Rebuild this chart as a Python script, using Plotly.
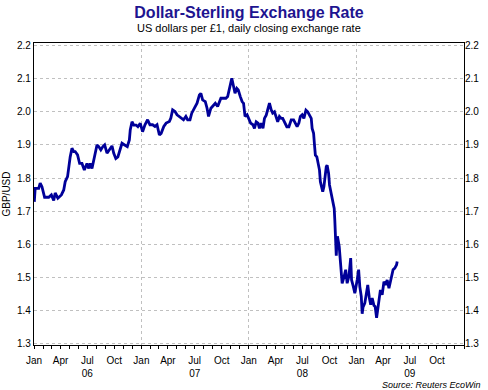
import plotly.graph_objects as go

# ---- data ----
dates = [
    "2006-01-02", "2006-01-04", "2006-01-05", "2006-01-17", "2006-01-22", "2006-01-28",
    "2006-02-06", "2006-02-20", "2006-03-01", "2006-03-09", "2006-03-14", "2006-03-23",
    "2006-04-04", "2006-04-12", "2006-04-17", "2006-04-25", "2006-04-29", "2006-05-04",
    "2006-05-10", "2006-05-16", "2006-05-21", "2006-05-29", "2006-06-05", "2006-06-13",
    "2006-06-21", "2006-06-30", "2006-07-06", "2006-07-11", "2006-07-17", "2006-07-23",
    "2006-07-28", "2006-08-03", "2006-08-09", "2006-08-16", "2006-08-23", "2006-08-29",
    "2006-09-06", "2006-09-14", "2006-09-23", "2006-09-29", "2006-10-06", "2006-10-13",
    "2006-10-18", "2006-10-27", "2006-11-05", "2006-11-14", "2006-11-21", "2006-11-24",
    "2006-11-30", "2006-12-06", "2006-12-14", "2006-12-20", "2006-12-28",
    "2007-01-05", "2007-01-13", "2007-01-22", "2007-01-30", "2007-02-08", "2007-02-16",
    "2007-02-23", "2007-03-03", "2007-03-09", "2007-03-18", "2007-03-26", "2007-04-06",
    "2007-04-11", "2007-04-17", "2007-04-25", "2007-05-02", "2007-05-10", "2007-05-15",
    "2007-05-24", "2007-06-01", "2007-06-07", "2007-06-15", "2007-06-21", "2007-06-30",
    "2007-07-09", "2007-07-17", "2007-07-22", "2007-07-28", "2007-08-06", "2007-08-12",
    "2007-08-17", "2007-08-25", "2007-09-02", "2007-09-09", "2007-09-17", "2007-09-23",
    "2007-09-28", "2007-10-07", "2007-10-15", "2007-10-21", "2007-10-27", "2007-11-04",
    "2007-11-09", "2007-11-15", "2007-11-21", "2007-11-26", "2007-12-03", "2007-12-09",
    "2007-12-14", "2007-12-19", "2007-12-26",
    "2008-01-02", "2008-01-07", "2008-01-15", "2008-01-20", "2008-01-26", "2008-02-01",
    "2008-02-06", "2008-02-12", "2008-02-18", "2008-02-23", "2008-02-29", "2008-03-06",
    "2008-03-11", "2008-03-17", "2008-03-22", "2008-03-28", "2008-04-03", "2008-04-08",
    "2008-04-14", "2008-04-20", "2008-04-25", "2008-05-01", "2008-05-09", "2008-05-16",
    "2008-05-24", "2008-06-01", "2008-06-08", "2008-06-13", "2008-06-19", "2008-06-24",
    "2008-06-30", "2008-07-06", "2008-07-13", "2008-07-19", "2008-07-25", "2008-07-31",
    "2008-08-03", "2008-08-08", "2008-08-11", "2008-08-14", "2008-08-19", "2008-08-22",
    "2008-08-28", "2008-08-31", "2008-09-05", "2008-09-08", "2008-09-12", "2008-09-15",
    "2008-09-20", "2008-09-23", "2008-09-28", "2008-10-01", "2008-10-04", "2008-10-09",
    "2008-10-12", "2008-10-17", "2008-10-19", "2008-10-21", "2008-10-23", "2008-10-24",
    "2008-10-26", "2008-10-28", "2008-11-03", "2008-11-06", "2008-11-10", "2008-11-13",
    "2008-11-19", "2008-11-25", "2008-11-30", "2008-12-06", "2008-12-12", "2008-12-15",
    "2008-12-21", "2008-12-26",
    "2009-01-03", "2009-01-08", "2009-01-12", "2009-01-17", "2009-01-20", "2009-01-23",
    "2009-01-29", "2009-02-04", "2009-02-08", "2009-02-13", "2009-02-18", "2009-02-23",
    "2009-03-01", "2009-03-05", "2009-03-10", "2009-03-15", "2009-03-19", "2009-03-23",
    "2009-03-29", "2009-04-04", "2009-04-09", "2009-04-15", "2009-04-21", "2009-04-26",
    "2009-04-30", "2009-05-05", "2009-05-11", "2009-05-17", "2009-05-19",
]
gbp_usd = [
    1.728, 1.764, 1.769, 1.769, 1.785, 1.774,
    1.742, 1.742, 1.749, 1.732, 1.755, 1.739,
    1.749, 1.764, 1.789, 1.804, 1.834, 1.864,
    1.890, 1.880, 1.880, 1.870, 1.844, 1.844,
    1.824, 1.844, 1.829, 1.844, 1.829, 1.854,
    1.875, 1.900, 1.895, 1.885, 1.895, 1.900,
    1.875, 1.885, 1.897, 1.875, 1.859, 1.864,
    1.880, 1.905, 1.900, 1.895, 1.915, 1.945,
    1.970, 1.960, 1.960, 1.955, 1.965,
    1.940, 1.961, 1.976, 1.961, 1.961, 1.956,
    1.961, 1.930, 1.935, 1.956, 1.966, 1.971,
    1.981, 2.006, 2.001, 1.991, 1.986, 1.981,
    1.976, 1.986, 1.976, 1.976, 1.996, 2.011,
    2.026, 2.051, 2.056, 2.036, 2.031, 2.011,
    1.986, 2.011, 2.021, 2.026, 2.016, 2.031,
    2.041, 2.041, 2.041, 2.046, 2.066, 2.101,
    2.081, 2.056, 2.071, 2.066, 2.046, 2.031,
    2.026, 1.986, 1.991,
    1.976, 1.966, 1.961, 1.950, 1.970, 1.966,
    1.950, 1.966, 1.950, 1.980, 1.990, 2.010,
    2.026, 2.006, 1.996, 2.000, 1.980, 1.970,
    1.986, 1.980, 1.980, 1.970, 1.955, 1.955,
    1.976, 1.976, 1.966, 1.955, 1.966, 1.986,
    1.991, 1.980, 2.005, 2.000, 1.990, 1.980,
    1.950, 1.935, 1.900, 1.869, 1.864, 1.849,
    1.824, 1.789, 1.764, 1.759, 1.774, 1.800,
    1.834, 1.839, 1.814, 1.779, 1.764, 1.744,
    1.724, 1.708, 1.674, 1.644, 1.603, 1.565,
    1.603, 1.624, 1.593, 1.553, 1.503, 1.482,
    1.500, 1.523, 1.482, 1.503, 1.558, 1.492,
    1.472, 1.452,
    1.492, 1.523, 1.472, 1.442, 1.390, 1.410,
    1.422, 1.452, 1.477, 1.440, 1.417, 1.437,
    1.415, 1.412, 1.378, 1.410, 1.447, 1.462,
    1.447, 1.487, 1.477, 1.492, 1.467, 1.487,
    1.497, 1.523, 1.528, 1.538, 1.548,
]

x_tick_dates = [f"{y}-{m:02d}-01" for y in (2006, 2007, 2008, 2009) for m in (1, 4, 7, 10)]
x_tick_text = []
for y in ("06", "07", "08", "09"):
    x_tick_text += ["Jan", "Apr", f"Jul<br>{y}", "Oct"]
year_grid_dates = ["2007-01-01", "2008-01-01", "2009-01-01"]
y_ticks = [1.3, 1.4, 1.5, 1.6, 1.7, 1.8, 1.9, 2.0, 2.1, 2.2]

x_range = ["2006-01-01", "2010-01-01"]
y_range = [1.2955, 2.208]

FONT = "Liberation Sans, Arial, sans-serif"
GRID = "#c0c0c0"

fig = go.Figure()
fig.add_trace(go.Scatter(
    x=dates, y=gbp_usd, mode="lines",
    line=dict(color="#000099", width=2.8),
    xaxis="x", yaxis="y", showlegend=False, hoverinfo="x+y",
))
# invisible companion trace carrying the overlay axes (year grid / right labels)
fig.add_trace(go.Scatter(
    x=dates, y=gbp_usd, mode="lines", line=dict(width=0, color="rgba(0,0,0,0)"),
    xaxis="x2", yaxis="y2", showlegend=False, hoverinfo="skip",
))

fig.update_layout(
    width=488, height=390,
    margin=dict(l=34, r=24, t=43, b=45),
    paper_bgcolor="white", plot_bgcolor="white",
    font=dict(family=FONT, size=10, color="black"),
    title=dict(
        text="<b>Dollar-Sterling Exchange Rate</b>",
        font=dict(family=FONT, size=16, color="#1e1490"),
        x=0.5, xanchor="center", xref="paper",
        y=1 - 12 / 390, yref="container", yanchor="middle",
    ),
    xaxis=dict(
        type="date", range=x_range, automargin=False,
        tickmode="array", tickvals=x_tick_dates, ticktext=x_tick_text,
        ticks="outside", ticklen=3, tickcolor="black", tickwidth=1,
        ticklabelstandoff=3,
        showgrid=False, zeroline=False,
        showline=True, linecolor="black", linewidth=1.3, mirror=True,
        tickfont=dict(size=10, family=FONT, color="black"),
        minor=dict(tickmode="linear", tick0="2006-01-01", dtick="M1",
                   ticks="outside", ticklen=3, tickcolor="black", showgrid=False),
    ),
    xaxis2=dict(
        type="date", range=x_range, overlaying="x", anchor="y", automargin=False,
        tickmode="array", tickvals=year_grid_dates,
        showticklabels=False, ticks="", showline=False, zeroline=False,
        showgrid=True, gridcolor=GRID, griddash="dot", gridwidth=1,
    ),
    yaxis=dict(
        range=y_range, tickmode="array", tickvals=y_ticks, tickformat=".1f",
        automargin=False,
        ticks="", showgrid=True, gridcolor=GRID, griddash="dot", gridwidth=1,
        zeroline=False, showline=True, linecolor="black", linewidth=1.3, mirror=True,
        tickfont=dict(size=10, family=FONT, color="black"),
        title=dict(text="GBP/USD", font=dict(size=10, family=FONT, color="black"), standoff=4),
    ),
    yaxis2=dict(
        range=y_range, overlaying="y", side="right", anchor="x", automargin=False,
        tickmode="array", tickvals=y_ticks, tickformat=".1f",
        ticks="", showgrid=False, zeroline=False, showline=False,
        tickfont=dict(size=10, family=FONT, color="black"),
    ),
    annotations=[
        dict(text="US dollars per £1, daily closing exchange rate",
             xref="paper", yref="paper", x=0.5, y=1 + 15 / 302,
             xanchor="center", yanchor="middle", showarrow=False,
             font=dict(size=11, family=FONT, color="black")),
        dict(text="<i>Source: Reuters EcoWin</i>",
             xref="paper", yref="paper", x=(481.7 - 34) / 430, y=-39.5 / 302,
             xanchor="right", yanchor="middle", showarrow=False,
             font=dict(size=9, family=FONT, color="black")),
    ],
)

fig.write_html("out.html", config={"displayModeBar": False},
               post_script="document.body.style.margin='0';")
